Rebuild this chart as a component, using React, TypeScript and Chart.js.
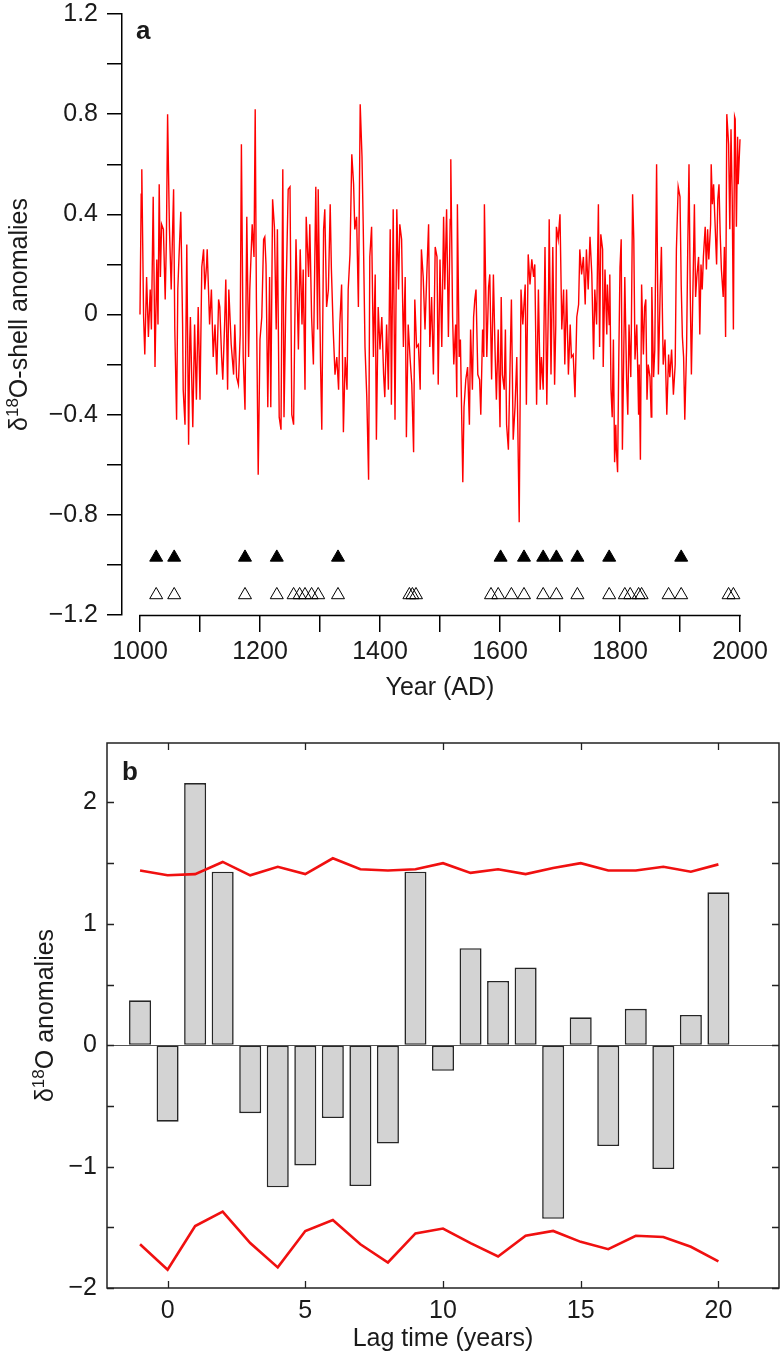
import React, { useEffect, useRef } from "react";
import { Chart, registerables } from "chart.js";

Chart.register(...registerables);

// ---------- Panel a: δ18O-shell anomalies time series ----------
const yearsA: number[] = [
  1000,1002,1003,1006,1008,1011,1014,1017,1019,1022,
  1025,1028,1030,1032,1034,1036,1039,1042,1044,1046,
  1049,1052,1054,1056,1058,1061,1063,1065,1068,1071,
  1072,1075,1078,1081,1083,1084,1088,1091,1094,1097,
  1100,1103,1106,1108,1111,1112,1116,1119,1122,1125,
  1128,1131,1133,1136,1138,1141,1143,1146,1148,1152,
  1156,1158,1161,1164,1167,1169,1172,1175,1178,1181,
  1183,1187,1190,1192,1194,1197,1200,1203,1206,1208,
  1210,1213,1216,1218,1221,1224,1227,1229,1232,1235,
  1238,1240,1243,1247,
  1250,1253,1256,1258,1260,1264,1267,1270,1272,1275,
  1277,1281,1283,1286,1289,1293,1296,1297,1301,1303,
  1306,1308,1311,1314,1317,1319,1322,1325,1328,1331,
  1333,1336,1339,1342,1345,1347,1350,1353,1356,1358,
  1361,1364,1367,1370,1372,1375,1378,1381,1383,1386,
  1389,1392,1394,1397,1400,1403,1406,1408,1411,1414,
  1417,1419,1422,1425,1428,1431,1433,1436,1439,1442,
  1444,1447,1450,1453,1456,1458,1461,1464,1467,1469,
  1472,1475,1478,1481,1483,1486,1489,1492,1495,1497,
  1500,1503,1506,1508,1511,1514,1517,1518,1521,1523,
  1526,1528,1529,1532,1534,1538,1540,1543,1546,1549,
  1551,1554,1556,1558,1560,1563,1566,1568,1571,1573,
  1574,1578,1581,1583,1586,1589,1592,1594,1597,1600,
  1602,1604,1607,1609,1611,1614,1617,1619,1622,1625,
  1628,1632,1635,1638,1642,1644,1647,1650,1653,1656,
  1658,1661,1664,1667,1669,1672,1675,1678,1681,1682,
  1685,1688,1691,1693,1694,1697,1700,1703,1706,1708,
  1711,1714,1717,1719,1722,1725,1728,1731,1733,1736,
  1739,1742,1744,1747,1750,1753,1756,1758,1761,1764,
  1766,
  1768,1771,1772,1775,1778,1779,1782,1783,1785,1787,
  1789,1791,1793,1794,1796,1798,1800,1802,1804,1806,
  1808,1811,1813,1815,1818,1819,1821,1823,1825,1828,
  1831,1832,1834,1836,1839,1841,1843,1845,1847,1850,
  1852,1853,1856,1858,1861,1864,1867,1869,1872,1875,
  1878,1881,1883,1886,1889,1892,1894,1897,1900,1902,
  1904,1906,1908,1911,1913,1915,1917,1919,1922,1924,
  1926,1928,1931,1933,1935,1937,1939,1942,1944,1946,
  1948,1951,1952,1954,1956,1958,1961,1963,1965,1967,
  1969,1972,1974,1976,1978,1981,1983,1985,1987,1989,
  1991,1992,1994,1996,1997,2000,
];

const anomaliesA: number[] = [
  0.00,0.48,0.58,-0.01,-0.16,0.15,-0.09,0.10,-0.06,0.47,
  -0.21,0.22,-0.04,0.52,0.15,0.36,0.34,0.06,0.30,0.80,
  0.35,0.10,0.30,0.50,-0.06,-0.42,0.10,0.23,0.41,-0.04,
  -0.30,-0.44,0.28,-0.52,-0.10,-0.01,-0.45,-0.04,-0.34,0.03,
  -0.34,0.19,0.26,0.10,0.20,0.26,-0.04,0.10,-0.17,-0.04,
  -0.24,0.06,0.03,-0.17,-0.26,-0.04,0.14,-0.30,0.10,-0.12,
  -0.24,-0.04,-0.25,-0.28,-0.08,0.68,-0.17,-0.38,0.39,-0.17,
  0.10,0.36,0.23,0.82,0.06,-0.64,-0.10,-0.01,0.30,0.31,
  0.20,-0.37,0.15,-0.37,0.46,0.35,-0.06,0.34,-0.41,-0.46,
  0.58,-0.41,0.04,0.50,
  0.51,-0.40,-0.44,-0.04,0.30,-0.14,0.26,-0.04,0.18,-0.30,
  0.39,0.15,0.36,-0.01,-0.20,0.51,-0.06,0.50,-0.21,-0.46,
  0.34,0.42,0.03,0.10,0.44,0.18,-0.06,-0.24,-0.17,-0.30,
  -0.04,0.12,-0.47,-0.17,-0.30,0.10,0.24,0.64,0.52,0.34,
  0.39,0.03,0.84,0.63,0.36,-0.13,-0.33,-0.66,0.23,0.35,
  -0.17,0.16,-0.50,0.03,-0.14,-0.01,-0.24,-0.33,-0.04,-0.30,
  0.34,-0.36,0.42,-0.42,0.42,0.10,0.36,0.30,-0.13,0.15,
  -0.49,-0.04,-0.17,-0.28,-0.55,0.06,-0.13,-0.12,-0.30,0.26,
  0.15,-0.06,0.16,0.36,-0.13,0.07,-0.24,0.27,0.23,-0.28,
  0.22,-0.13,0.39,0.10,0.42,-0.09,0.38,0.62,-0.01,-0.20,
  -0.04,-0.33,0.44,-0.17,-0.10,-0.67,-0.37,-0.26,-0.21,-0.44,
  -0.06,-0.30,-0.01,0.06,0.10,-0.24,-0.26,-0.40,-0.06,-0.17,
  0.44,-0.17,0.11,0.16,-0.26,0.16,-0.17,-0.34,-0.06,-0.45,
  0.07,-0.24,-0.30,-0.06,-0.44,-0.54,-0.17,0.06,-0.50,-0.37,
  -0.17,-0.83,0.10,-0.04,0.12,-0.36,0.24,0.12,0.22,0.15,
  0.20,-0.36,0.10,-0.30,-0.17,-0.30,0.27,-0.36,0.10,0.38,
  -0.24,0.27,-0.28,-0.04,0.35,0.30,0.40,-0.06,0.10,-0.20,
  0.10,-0.24,-0.04,-0.17,-0.16,-0.33,-0.01,0.04,0.26,0.16,
  0.23,0.04,0.26,0.10,0.31,0.16,-0.18,0.10,-0.04,0.44,
  -0.13,
  0.32,0.26,-0.21,0.18,-0.08,0.12,-0.04,0.16,-0.30,-0.41,
  -0.10,-0.59,-0.44,-0.54,-0.63,-0.17,0.19,0.30,-0.54,-0.20,
  0.15,-0.26,-0.40,-0.04,-0.25,-0.04,0.48,0.30,-0.18,-0.04,
  -0.40,-0.20,-0.58,0.12,-0.16,0.03,0.06,-0.34,-0.20,-0.25,
  -0.41,0.11,-0.25,-0.14,0.60,-0.24,0.10,0.27,-0.20,-0.10,
  -0.40,-0.16,-0.25,-0.14,-0.32,-0.20,0.26,0.51,0.47,0.12,
  -0.09,-0.17,-0.42,-0.13,0.28,0.60,0.10,-0.24,0.16,0.44,
  0.07,0.15,0.23,-0.08,0.20,0.10,0.23,0.35,0.18,0.34,
  0.22,0.36,0.60,0.44,0.52,0.39,0.20,0.46,0.52,0.32,
  0.18,0.07,0.27,-0.09,0.80,0.68,0.34,0.74,0.47,-0.06,
  0.79,0.78,0.35,0.71,0.52,0.70,
];

const filledEventYears: number[] = [1027, 1057, 1175, 1228, 1330, 1601, 1640, 1672, 1694, 1729, 1782, 1902];
const openEventYears: number[] = [
  1027, 1057, 1175, 1228, 1256, 1266, 1275, 1286, 1297, 1330, 1449, 1454, 1460,
  1585, 1597, 1619, 1640, 1672, 1694, 1729, 1782, 1808, 1817, 1831, 1836, 1881, 1902, 1981, 1989,
];
const FILLED_LEVEL = -0.97;
const OPEN_LEVEL = -1.12;

const xTicksA: number[] = [1000, 1100, 1200, 1300, 1400, 1500, 1600, 1700, 1800, 1900, 2000];
const xLabelsA: number[] = [1000, 1200, 1400, 1600, 1800, 2000];
const yTicksA: number[] = [-1.2, -1.0, -0.8, -0.6, -0.4, -0.2, 0, 0.2, 0.4, 0.6, 0.8, 1.0, 1.2];
const yLabelValuesA: number[] = [-1.2, -0.8, -0.4, 0, 0.4, 0.8, 1.2];
const yLabelTextsA: string[] = ["\u22121.2", "\u22120.8", "\u22120.4", "0", "0.4", "0.8", "1.2"];

// ---------- Panel b: lag composite ----------
const lags: number[] = [-1, 0, 1, 2, 3, 4, 5, 6, 7, 8, 9, 10, 11, 12, 13, 14, 15, 16, 17, 18, 19, 20];
const barValues: number[] = [
  0.37, -0.63, 2.16, 1.43, -0.56, -1.17, -0.99, -0.60, -1.16, -0.81, 1.43,
  -0.21, 0.80, 0.53, 0.64, -1.43, 0.23, -0.83, 0.30, -1.02, 0.25, 1.26,
];
const upperBound: number[] = [
  1.44, 1.40, 1.41, 1.51, 1.40, 1.47, 1.41, 1.54, 1.45, 1.44, 1.45,
  1.50, 1.42, 1.45, 1.41, 1.46, 1.50, 1.44, 1.44, 1.47, 1.43, 1.49,
];
const lowerBound: number[] = [
  -1.64, -1.85, -1.49, -1.37, -1.63, -1.83, -1.53, -1.44, -1.64, -1.79, -1.55,
  -1.51, -1.63, -1.74, -1.57, -1.53, -1.62, -1.68, -1.57, -1.58, -1.66, -1.78,
];
const xTicksB: number[] = [0, 5, 10, 15, 20];
const yTicksB: number[] = [-2, -1.5, -1, -0.5, 0, 0.5, 1, 1.5, 2];
const yLabelValuesB: number[] = [-2, -1, 0, 1, 2];
const yLabelTextsB: string[] = ["\u22122", "\u22121", "0", "1", "2"];

const FONT_FAMILY = "'Liberation Sans', Arial, Helvetica, sans-serif";
const TEXT_COLOR = "#1a1a1a";

function drawRotatedSupTitle(
  ctx: CanvasRenderingContext2D,
  baselineX: number,
  centerY: number,
  pre: string,
  sup: string,
  post: string
) {
  const font = `25px ${FONT_FAMILY}`;
  const supFont = `17px ${FONT_FAMILY}`;
  ctx.save();
  ctx.translate(baselineX, centerY);
  ctx.rotate(-Math.PI / 2);
  ctx.fillStyle = TEXT_COLOR;
  ctx.textAlign = "left";
  ctx.textBaseline = "alphabetic";
  ctx.font = font;
  const w1 = ctx.measureText(pre).width;
  const w3 = ctx.measureText(post).width;
  ctx.font = supFont;
  const w2 = ctx.measureText(sup).width;
  let x = -(w1 + w2 + w3) / 2;
  ctx.font = font;
  ctx.fillText(pre, x, 0);
  x += w1;
  ctx.font = supFont;
  ctx.fillText(sup, x, -9);
  x += w2;
  ctx.font = font;
  ctx.fillText(post, x, 0);
  ctx.restore();
}

function labelFor(values: number[], texts: string[], v: number): string {
  for (let i = 0; i < values.length; i++) {
    if (Math.abs(values[i] - v) < 1e-6) return texts[i];
  }
  return "";
}

export default function App() {
  const refA = useRef<HTMLCanvasElement | null>(null);
  const refB = useRef<HTMLCanvasElement | null>(null);

  useEffect(() => {
    if (!refA.current || !refB.current) return;

    const seriesPts = yearsA.map((yr, i) => ({ x: yr, y: anomaliesA[i] }));
    const filledPts = filledEventYears.map((yr) => ({ x: yr, y: FILLED_LEVEL }));
    const openPts = openEventYears.map((yr) => ({ x: yr, y: OPEN_LEVEL }));

    const panelAPlugin = {
      id: "panelA",
      afterDraw(chart: any) {
        const ctx: CanvasRenderingContext2D = chart.ctx;
        const xs = chart.scales.x;
        const area = chart.chartArea;
        ctx.save();
        ctx.strokeStyle = "#000";
        ctx.lineWidth = 1.5;
        ctx.beginPath();
        ctx.moveTo(xs.getPixelForValue(xTicksA[0]) - 0.75, area.bottom + 0.5);
        ctx.lineTo(xs.getPixelForValue(xTicksA[xTicksA.length - 1]) + 0.75, area.bottom + 0.5);
        ctx.stroke();
        ctx.fillStyle = TEXT_COLOR;
        ctx.font = `25px ${FONT_FAMILY}`;
        ctx.textAlign = "center";
        ctx.textBaseline = "middle";
        ctx.fillText("Year (AD)", xs.getPixelForValue(1500), area.bottom + 73);
        ctx.font = `bold 26px ${FONT_FAMILY}`;
        ctx.textAlign = "left";
        ctx.textBaseline = "alphabetic";
        ctx.fillText("a", 136, 39);
        ctx.restore();
        drawRotatedSupTitle(ctx, 27, (area.top + area.bottom) / 2, "\u03b4", "18", "O-shell anomalies");
      },
    };

    const chartA = new Chart(refA.current, {
      type: "line",
      data: {
        datasets: [
          {
            type: "line",
            data: seriesPts,
            borderColor: "#ff0000",
            borderWidth: 1.4,
            pointRadius: 0,
            tension: 0,
            order: 2,
          } as any,
          {
            type: "scatter",
            data: filledPts,
            pointStyle: "triangle",
            pointRadius: 7.5,
            backgroundColor: "#000",
            borderColor: "#000",
            borderWidth: 1,
            showLine: false,
            order: 1,
          } as any,
          {
            type: "scatter",
            data: openPts,
            pointStyle: "triangle",
            pointRadius: 7.5,
            backgroundColor: "rgba(0,0,0,0)",
            borderColor: "#000",
            borderWidth: 1,
            showLine: false,
            order: 1,
          } as any,
        ],
      },
      options: {
        responsive: false,
        animation: false,
        events: [],
        layout: { padding: { top: 14, right: 20, left: 0, bottom: 0 } },
        plugins: { legend: { display: false }, tooltip: { enabled: false } },
        scales: {
          x: {
            type: "linear",
            min: 970,
            max: 2035,
            afterBuildTicks: (s: any) => {
              s.ticks = xTicksA.map((v) => ({ value: v }));
            },
            afterFit: (s: any) => {
              s.height = 95;
              s.paddingLeft = 0;
              s.paddingRight = 0;
            },
            border: { display: false },
            grid: {
              display: true,
              drawOnChartArea: false,
              drawTicks: true,
              tickLength: 17,
              color: "#000",
              lineWidth: 1.5,
            },
            ticks: {
              autoSkip: false,
              maxRotation: 0,
              padding: 5,
              color: TEXT_COLOR,
              font: { family: FONT_FAMILY, size: 25 },
              callback: (v: any) => (xLabelsA.includes(Number(v)) ? String(v) : ""),
            },
          },
          y: {
            type: "linear",
            min: -1.2,
            max: 1.2,
            afterBuildTicks: (s: any) => {
              s.ticks = yTicksA.map((v) => ({ value: v }));
            },
            afterFit: (s: any) => {
              s.width = 122;
              s.paddingTop = 0;
              s.paddingBottom = 0;
            },
            border: { display: true, color: "#000", width: 1.5 },
            grid: {
              display: true,
              drawOnChartArea: false,
              drawTicks: true,
              tickLength: 15,
              color: "#000",
              lineWidth: 1.5,
            },
            ticks: {
              autoSkip: false,
              padding: 9,
              color: TEXT_COLOR,
              font: { family: FONT_FAMILY, size: 25 },
              callback: (v: any) => labelFor(yLabelValuesA, yLabelTextsA, Number(v)),
            },
          },
        },
      },
      plugins: [panelAPlugin],
    } as any);

    const barPts = lags.map((l, i) => ({ x: l, y: barValues[i] }));
    const upperPts = lags.map((l, i) => ({ x: l, y: upperBound[i] }));
    const lowerPts = lags.map((l, i) => ({ x: l, y: lowerBound[i] }));

    const panelBPlugin = {
      id: "panelB",
      afterDraw(chart: any) {
        const ctx: CanvasRenderingContext2D = chart.ctx;
        const xs = chart.scales.x;
        const ys = chart.scales.y;
        const { left, right, top, bottom } = chart.chartArea;
        ctx.save();
        ctx.strokeStyle = "#222";
        ctx.lineWidth = 1.3;
        ctx.beginPath();
        xs.ticks.forEach((t: any) => {
          const px = Math.round(xs.getPixelForValue(t.value)) + 0.5;
          ctx.moveTo(px, bottom);
          ctx.lineTo(px, bottom - 7);
          ctx.moveTo(px, top);
          ctx.lineTo(px, top + 7);
        });
        ys.ticks.forEach((t: any) => {
          const py = Math.round(ys.getPixelForValue(t.value)) + 0.5;
          ctx.moveTo(left, py);
          ctx.lineTo(left + 7, py);
          ctx.moveTo(right, py);
          ctx.lineTo(right - 7, py);
        });
        ctx.stroke();
        ctx.lineWidth = 1.5;
        ctx.strokeRect(left, top, right - left, bottom - top);
        ctx.fillStyle = TEXT_COLOR;
        ctx.font = `25px ${FONT_FAMILY}`;
        ctx.textAlign = "center";
        ctx.textBaseline = "middle";
        ctx.fillText("Lag time (years)", (left + right) / 2, bottom + 51);
        ctx.font = `bold 26px ${FONT_FAMILY}`;
        ctx.textAlign = "left";
        ctx.textBaseline = "alphabetic";
        ctx.fillText("b", 122, 70);
        ctx.restore();
        drawRotatedSupTitle(ctx, 53, (top + bottom) / 2, "\u03b4", "18", "O anomalies");
      },
    };

    const chartB = new Chart(refB.current, {
      type: "bar",
      data: {
        datasets: [
          {
            type: "bar",
            data: barPts,
            backgroundColor: "#d3d3d3",
            borderColor: "#262626",
            borderWidth: 1.6,
            borderSkipped: false,
            barPercentage: 0.8,
            categoryPercentage: 1,
            order: 2,
          } as any,
          {
            type: "line",
            data: upperPts,
            borderColor: "#f01010",
            borderWidth: 2.6,
            pointRadius: 0,
            tension: 0,
            order: 1,
          } as any,
          {
            type: "line",
            data: lowerPts,
            borderColor: "#f01010",
            borderWidth: 2.6,
            pointRadius: 0,
            tension: 0,
            order: 1,
          } as any,
        ],
      },
      options: {
        responsive: false,
        animation: false,
        events: [],
        layout: { padding: { top: 33, right: 2, left: 0, bottom: 0 } },
        plugins: { legend: { display: false }, tooltip: { enabled: false } },
        scales: {
          x: {
            type: "linear",
            min: -2.2,
            max: 22.2,
            offset: false,
            afterBuildTicks: (s: any) => {
              s.ticks = xTicksB.map((v) => ({ value: v }));
            },
            afterFit: (s: any) => {
              s.height = 71;
              s.paddingLeft = 0;
              s.paddingRight = 0;
            },
            border: { display: false },
            grid: { display: false, drawTicks: false, offset: false },
            ticks: {
              autoSkip: false,
              maxRotation: 0,
              padding: 8,
              color: TEXT_COLOR,
              font: { family: FONT_FAMILY, size: 25 },
              callback: (v: any) => String(v),
            },
          },
          y: {
            type: "linear",
            min: -2,
            max: 2.49,
            afterBuildTicks: (s: any) => {
              s.ticks = yTicksB.map((v) => ({ value: v }));
            },
            afterFit: (s: any) => {
              s.width = 107;
              s.paddingTop = 0;
              s.paddingBottom = 0;
            },
            border: { display: false },
            grid: {
              display: true,
              drawTicks: false,
              drawOnChartArea: true,
              lineWidth: 1,
              color: (c: any) => (c.tick && c.tick.value === 0 ? "#555" : "rgba(0,0,0,0)"),
            },
            ticks: {
              autoSkip: false,
              padding: 10,
              color: TEXT_COLOR,
              font: { family: FONT_FAMILY, size: 25 },
              callback: (v: any) => labelFor(yLabelValuesB, yLabelTextsB, Number(v)),
            },
          },
        },
      },
      plugins: [panelBPlugin],
    } as any);

    return () => {
      chartA.destroy();
      chartB.destroy();
    };
  }, []);

  return (
    <div style={{ position: "absolute", left: 0, top: 0, width: 781, height: 1359, background: "#fff" }}>
      <canvas ref={refA} width={781} height={710} style={{ position: "absolute", left: 0, top: 0 }} />
      <canvas ref={refB} width={781} height={649} style={{ position: "absolute", left: 0, top: 710 }} />
    </div>
  );
}
